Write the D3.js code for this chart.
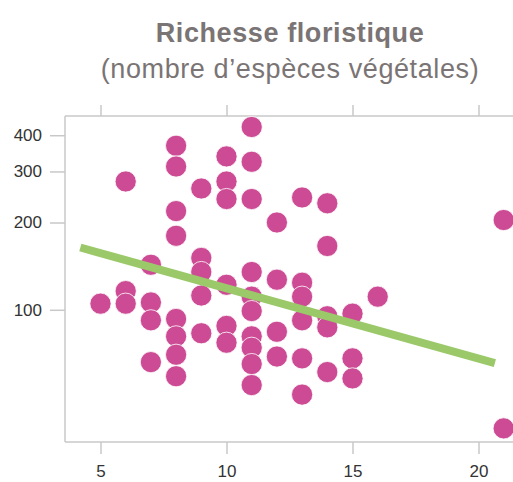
<!DOCTYPE html>
<html>
<head>
<meta charset="utf-8">
<script src="https://cdn.jsdelivr.net/npm/d3@7"></script>
<style>
  body { margin: 0; background: #fff; }
  svg { display: block; }
</style>
</head>
<body>
<div id="chart"></div>
<script>
// observations: x value (integer column) and species count
const xs = [5,
  6, 6, 6,
  7, 7, 7, 7,
  8, 8, 8, 8, 8, 8, 8, 8,
  9, 9, 9, 9, 9,
  10, 10, 10, 10, 10, 10,
  11, 11, 11, 11, 11, 11, 11, 11, 11, 11,
  12, 12, 12, 12,
  13, 13, 13, 13, 13, 13,
  14, 14, 14, 14, 14,
  15, 15, 15,
  16,
  21, 21];
const species = [105,
  277, 116, 105,
  143, 106, 92, 66,
  368, 312, 219, 180, 93, 81, 70, 59,
  262, 151, 135, 112, 83,
  338, 277, 241, 122, 88, 77,
  427, 324, 241, 135, 111, 99, 81, 74, 65, 55,
  200, 127, 84, 69,
  244, 124, 111, 92, 68, 51,
  233, 166, 95, 87, 61,
  97, 68, 58,
  111,
  204, 39];

// fitted trend line (ends)
const trendX = [4.2, 20.65];
const trendY = [164, 65.5];

const xTicks = [5, 10, 15, 20];
const yTicks = [100, 200, 300, 400];

const width = 513, height = 482;
const plotLeft = 65, plotTop = 116, plotBottom = 442;

const svg = d3.select("#chart").append("svg")
  .attr("width", width)
  .attr("height", height);

const x = d3.scaleLinear().domain([5, 20]).range([100.5, 478.5]);
const y = d3.scaleLog().domain([35, 466]).range([plotBottom, plotTop]);

const axisColor = "#c8c8c8";
const font = "Liberation Sans, Arial, sans-serif";

// title
svg.append("text")
  .attr("x", 290).attr("y", 42)
  .attr("text-anchor", "middle")
  .style("font-family", font)
  .style("font-weight", "bold")
  .style("font-size", "27px")
  .style("letter-spacing", "0.6px")
  .style("fill", "#7a7474")
  .text("Richesse floristique");

svg.append("text")
  .attr("x", 290).attr("y", 78)
  .attr("text-anchor", "middle")
  .style("font-family", font)
  .style("font-size", "27px")
  .style("letter-spacing", "0.6px")
  .style("fill", "#7a7474")
  .text("(nombre d\u2019esp\u00e8ces v\u00e9g\u00e9tales)");

// frame
const frame = svg.append("g")
  .style("stroke", axisColor)
  .style("stroke-width", "1.5px");

frame.append("line").attr("x1", plotLeft).attr("x2", width + 5).attr("y1", plotTop).attr("y2", plotTop);
frame.append("line").attr("x1", plotLeft).attr("x2", width + 5).attr("y1", plotBottom).attr("y2", plotBottom);
frame.append("line").attr("x1", plotLeft).attr("x2", plotLeft).attr("y1", plotTop).attr("y2", plotBottom);

// axes
const tickStyle = g => {
  g.select(".domain").remove();
  g.selectAll(".tick line").attr("stroke", axisColor).attr("stroke-width", 1.5);
  g.selectAll(".tick text")
    .style("font-family", font)
    .style("font-size", "17px")
    .style("fill", "#333");
};

svg.append("g")
  .attr("transform", `translate(0,${plotBottom})`)
  .call(d3.axisBottom(x).tickValues(xTicks).tickSize(12).tickPadding(11))
  .call(tickStyle);

svg.append("g")
  .attr("transform", `translate(0,${plotTop})`)
  .call(d3.axisTop(x).tickValues(xTicks).tickSize(11).tickFormat(""))
  .call(tickStyle);

svg.append("g")
  .attr("transform", `translate(${plotLeft},0)`)
  .call(d3.axisLeft(y).tickValues(yTicks).tickFormat(d3.format("d")).tickSize(15).tickPadding(8))
  .call(tickStyle);

// points
svg.append("g")
  .selectAll("circle")
  .data(xs.map((v, i) => ({x: v, y: species[i]})))
  .enter().append("circle")
  .attr("cx", d => x(d.x))
  .attr("cy", d => y(d.y))
  .attr("r", 10.6)
  .style("fill", "#cc4b94")
  .style("stroke", "#fff")
  .style("stroke-width", "0.8px");

// trend line
svg.append("line")
  .attr("x1", x(trendX[0])).attr("y1", y(trendY[0]))
  .attr("x2", x(trendX[1])).attr("y2", y(trendY[1]))
  .style("stroke", "#9bc96a")
  .style("stroke-width", "8px");
</script>
</body>
</html>
